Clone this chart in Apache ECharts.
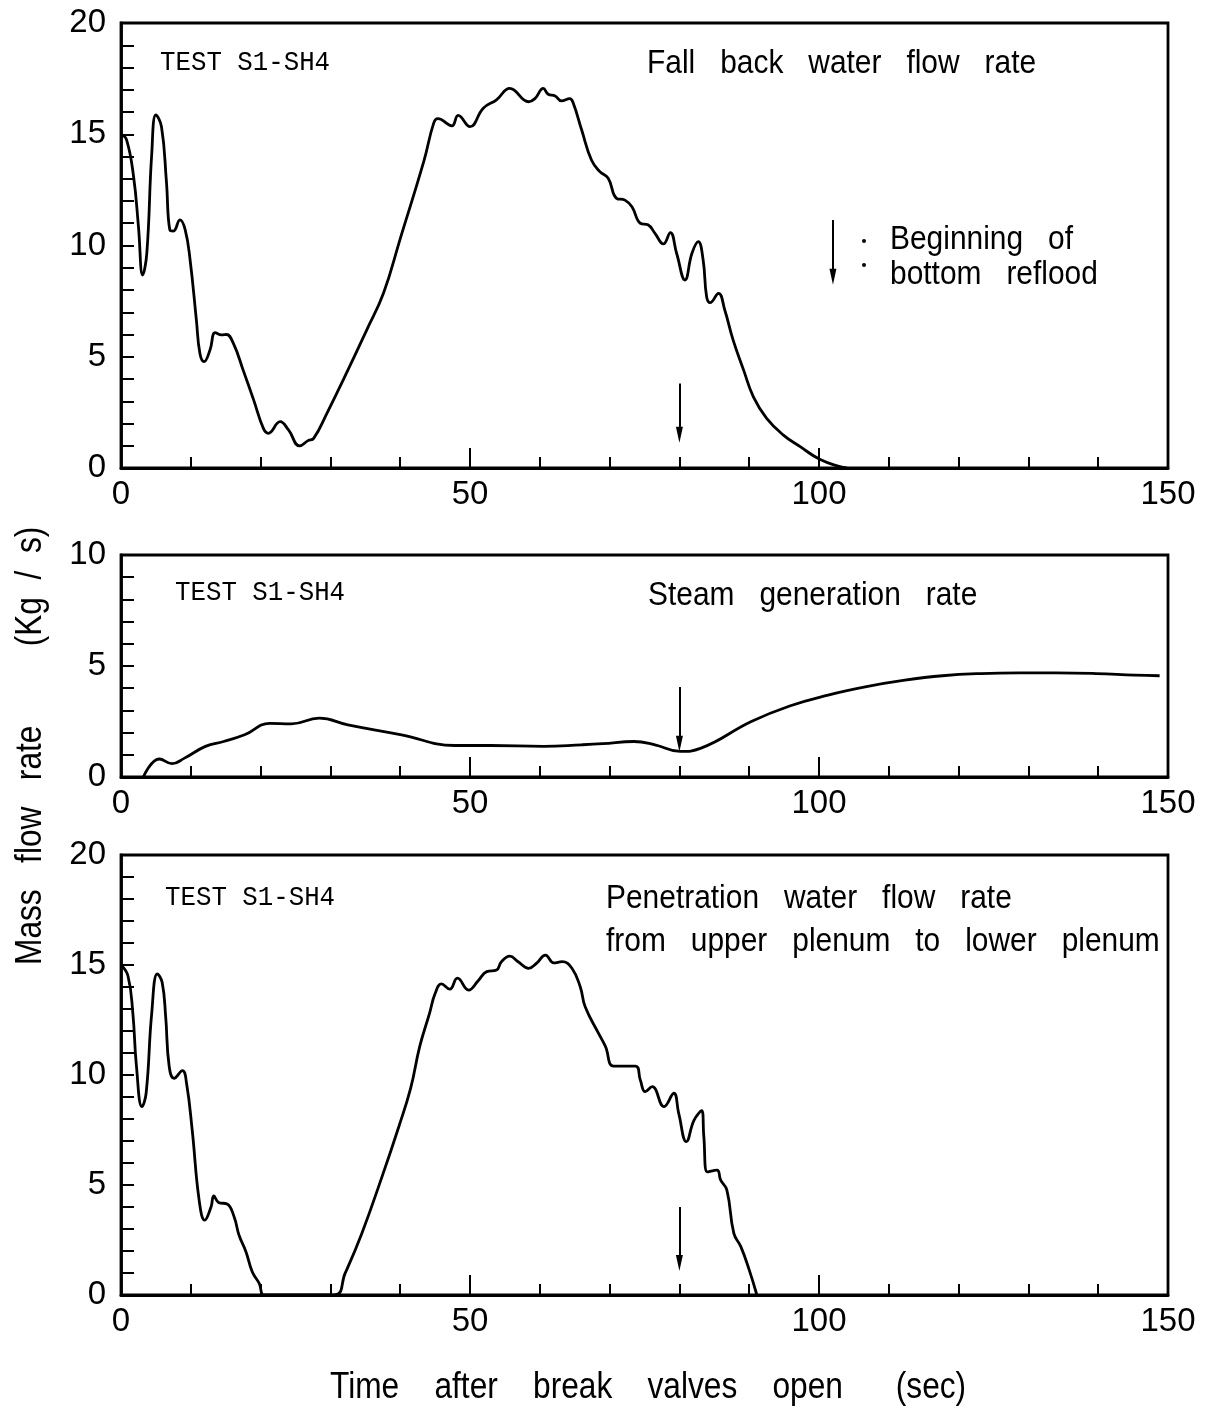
<!DOCTYPE html>
<html><head><meta charset="utf-8">
<script src="https://cdn.jsdelivr.net/npm/echarts@6.0.0/dist/echarts.min.js"></script>
<style>html,body{margin:0;padding:0;background:#fff}#c{width:1219px;height:1408px}</style>
</head><body><div id="c"></div>
<script>
// ---- data ----
const fallbackT = [0,0.8,1.8,2.5,3.1,3.7,4.4,5.0,5.8,6.5,7.0,7.5,8.45,9.2,9.9,10.8,11.3,11.9,12.75,13.5,14.4,15.1,16.1,17.5,19.0,20.4,21.1,22.8,24.0,25.6,26.8,27.6,29.5,32.3,35.2,37.6,40.0,43.4,44.8,45.4,47.4,48.3,50.0,51.9,53.8,55.7,58.4,59.3,60.5,61.2,62.2,63.1,64.3,64.8,66.0,67.4,68.6,69.8,71.0,72.2,73.2,74.4,75.5,76.5,77.7,78.7,79.6,80.8,81.8,82.7,83.4,83.9,84.4,85.6,86.5,87.7,89.2,90.6,92.5,94.9,97.3,100.1,103.0,104.0];
const fallbackV = [15.0,14.75,13.1,10.85,8.67,9.66,14.1,15.87,15.34,12.9,10.7,10.65,11.15,10.7,9.35,6.65,5.16,4.78,5.3,6.08,5.98,6.0,5.6,4.4,3.06,1.78,1.56,2.08,1.71,0.99,1.23,1.33,2.46,4.26,6.2,7.85,10.3,13.8,15.5,15.7,15.38,15.85,15.34,16.17,16.55,17.06,16.46,16.6,17.06,16.8,16.72,16.5,16.6,16.39,15.19,13.84,13.32,13.02,12.12,12.04,11.74,11.0,10.93,10.55,10.07,10.58,9.65,8.45,9.65,10.17,9.35,7.7,7.43,7.85,7.1,5.75,4.4,3.2,2.23,1.48,0.96,0.39,0.06,0];

const steamT = [3.2,5.5,7.3,9.1,12.1,14.7,17.7,21.3,24.4,28.4,32.5,40.2,47.8,52.9,60.5,66,69,73.5,76.5,80.1,83.1,90.3,95.8,101.3,106.8,112.3,117.7,123.2,128.7,134,139.7,145.2,148.8];
const steamV = [0,0.81,0.6,0.85,1.38,1.6,1.9,2.42,2.39,2.65,2.35,1.9,1.42,1.42,1.38,1.45,1.5,1.6,1.45,1.15,1.3,2.5,3.2,3.69,4.07,4.36,4.56,4.66,4.69,4.69,4.66,4.59,4.56];

const penetT = [0,1.0,1.7,2.2,3.0,3.6,4.4,5.2,5.9,6.4,6.9,7.6,8.8,9.4,10.2,11.2,12.0,12.9,13.3,14.0,15.2,16.2,16.9,17.9,18.8,19.8,20.6,30.6,32.1,34.5,37.4,39.8,41.5,42.8,44.2,45.0,45.9,47.1,48.2,49.8,51.2,52.4,53.8,54.5,55.7,56.9,58.4,59.6,60.8,62.0,63.2,64.6,65.8,66.5,68.4,69.4,70.6,73.7,74.4,75.1,76.1,77.8,79.2,79.9,81.0,82.1,83.2,83.5,84.0,85.4,85.9,86.8,87.8,88.8,90.0,91.1];
const penetV = [15.0,14.5,12.8,10.45,8.56,9.17,12.8,14.6,14.2,12.65,10.4,9.85,10.2,9.6,7.5,4.3,3.4,4.0,4.5,4.2,4.14,3.56,2.73,1.97,1.06,0.53,0,0,0.98,2.8,5.38,7.65,9.4,11.3,12.8,13.7,14.14,13.9,14.4,13.86,14.3,14.7,14.77,15.15,15.4,15.15,14.85,15.1,15.45,15.1,15.15,14.85,14.0,13.1,11.9,11.3,10.4,10.4,9.77,9.24,9.47,8.56,9.17,8.26,6.97,7.95,8.38,7.2,5.6,5.68,5.23,4.77,2.8,2.2,1.14,0];

// beginning of bottom reflood (arrow), start/end heights of arrows per panel
const refloodTime = 80;
const arrowSpan1 = [3.8, 1.5];
const arrowSpan2 = [4.05, 1.5];
const arrowSpan3 = [4.0, 1.45];
const keyArrowTime = 102;
const keyArrowSpan = [11.15, 8.6];

const xLabels = [0, 50, 100, 150];
const yLabelsBig = [0, 5, 10, 15, 20];
const yLabelsSmall = [0, 5, 10];

// ---- chart ----
const FONT = '"Liberation Sans", Arial, sans-serif';
const MONO = '"Liberation Mono", "DejaVu Sans Mono", monospace';
const pts = (t, v) => t.map((x, i) => [x, v[i]]);

const grids = [
  {left: 121, top: 23, width: 1047, height: 445},
  {left: 121, top: 555, width: 1047, height: 222},
  {left: 121, top: 855, width: 1047, height: 440}
].map(g => Object.assign(g, {show: true, borderColor: '#000', borderWidth: 2.8, backgroundColor: 'transparent'}));

function xAxis(gi) {
  return {
    type: 'value', gridIndex: gi, min: xLabels[0], max: xLabels[xLabels.length - 1],
    interval: xLabels[1] - xLabels[0],
    axisLine: {show: true, onZero: false, lineStyle: {color: '#000', width: 2.8}},
    axisTick: {show: true, inside: true, length: 20, lineStyle: {color: '#000', width: 2}},
    minorTick: {show: true, splitNumber: 5, length: 11, lineStyle: {color: '#000', width: 2}},
    splitLine: {show: false}, minorSplitLine: {show: false},
    axisLabel: {color: '#000', fontSize: 33, fontFamily: FONT, margin: 10}
  };
}
function yAxis(gi, labels) {
  return {
    type: 'value', gridIndex: gi, min: labels[0], max: labels[labels.length - 1],
    interval: labels[1] - labels[0],
    axisLine: {show: true, onZero: false, lineStyle: {color: '#000', width: 2.8}},
    axisTick: {show: true, inside: true, length: 13, lineStyle: {color: '#000', width: 2}},
    minorTick: {show: true, splitNumber: 5, length: 13, lineStyle: {color: '#000', width: 2}},
    splitLine: {show: false}, minorSplitLine: {show: false},
    axisLabel: {color: '#000', fontSize: 33, fontFamily: FONT, margin: 15}
  };
}
function arrow(t, span, extra) {
  return {
    silent: true, animation: false,
    symbol: ['none', 'triangle'], symbolSize: [7, 16],
    label: {show: false},
    lineStyle: {color: '#000', width: 2, type: 'solid'},
    data: [[{coord: [t, span[0]]}, {coord: [t, span[1]]}]].concat(extra || [])
  };
}
function line(gi, data, ml) {
  return {
    type: 'line', xAxisIndex: gi, yAxisIndex: gi, data: data,
    showSymbol: false, smooth: 0.45,
    lineStyle: {color: '#000', width: 2.8}, itemStyle: {color: '#000'},
    animation: false, silent: true, markLine: ml
  };
}

function txt(x, y, s, size, fam, sx, extra) {
  return Object.assign({type: 'text', x: x, y: y, silent: true, scaleX: sx,
    style: {text: s, fill: '#000', font: size + 'px ' + fam, textVerticalAlign: 'middle', textAlign: 'left'}}, extra || {});
}

const option = {
  backgroundColor: '#fff',
  animation: false,
  grid: grids,
  xAxis: [xAxis(0), xAxis(1), xAxis(2)],
  yAxis: [yAxis(0, yLabelsBig), yAxis(1, yLabelsSmall), yAxis(2, yLabelsBig)],
  series: [
    line(0, pts(fallbackT, fallbackV), arrow(refloodTime, arrowSpan1, [[{coord: [keyArrowTime, keyArrowSpan[0]]}, {coord: [keyArrowTime, keyArrowSpan[1]]}]])),
    line(1, pts(steamT, steamV), arrow(refloodTime, arrowSpan2)),
    line(2, pts(penetT, penetV), arrow(refloodTime, arrowSpan3))
  ],
  graphic: [
    txt(160, 63, 'TEST S1-SH4', 28, MONO, 0.92),
    txt(175, 593, 'TEST S1-SH4', 28, MONO, 0.92),
    txt(165, 898, 'TEST S1-SH4', 28, MONO, 0.92),
    txt(647, 64, 'Fall   back   water   flow   rate', 34, FONT, 0.88),
    txt(648, 596, 'Steam   generation   rate', 34, FONT, 0.88),
    txt(606, 899, 'Penetration   water   flow   rate', 34, FONT, 0.88),
    txt(606, 942, 'from   upper   plenum   to   lower   plenum', 34, FONT, 0.88),
    txt(890, 240, 'Beginning   of', 34, FONT, 0.88),
    txt(890, 275, 'bottom   reflood', 34, FONT, 0.88),
    {type: 'circle', silent: true, shape: {cx: 864, cy: 241, r: 2}, style: {fill: '#000'}},
    {type: 'circle', silent: true, shape: {cx: 864, cy: 265, r: 2}, style: {fill: '#000'}},
    txt(330, 1388, 'Time    after    break    valves    open      (sec)', 36, FONT, 0.88),
    txt(31, 965, 'Mass   flow   rate         (Kg  /  s)', 36, FONT, 0.88, {rotation: Math.PI / 2})
  ]
};

const chart = echarts.init(document.getElementById('c'), null, {renderer: 'canvas'});
chart.setOption(option);
</script>
</body></html>
